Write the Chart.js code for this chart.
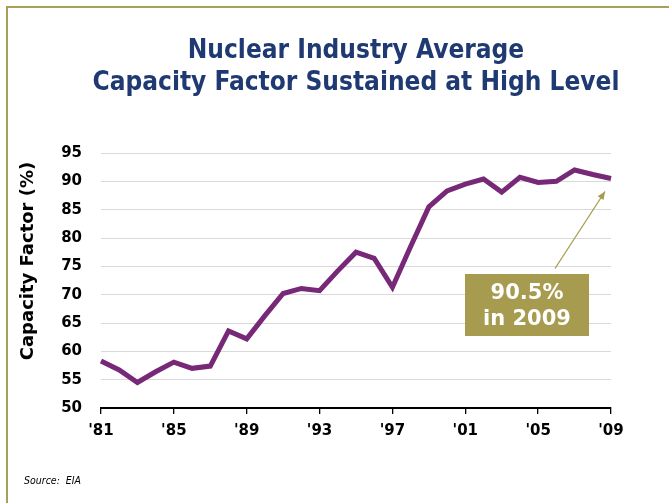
<!DOCTYPE html>
<html>
<head>
<meta charset="utf-8">
<script src="https://cdn.jsdelivr.net/npm/chart.js@4/dist/chart.umd.min.js"></script>
<style>
  html, body { margin: 0; padding: 0; background: #fff; }
  #wrap { position: relative; width: 669px; height: 503px; overflow: hidden; }
  #frame { position: absolute; left: 6px; top: 6px; right: -10px; bottom: -10px;
           border-top: 2px solid #A8A058; border-left: 2px solid #A8A058; }
  canvas { position: absolute; left: 0; top: 0; }
</style>
</head>
<body>
<div id="wrap">
  <div id="frame"></div>
  <canvas id="c" width="669" height="503"></canvas>
</div>
<script>
const years = ['1981','1982','1983','1984','1985','1986','1987','1988','1989','1990',
  '1991','1992','1993','1994','1995','1996','1997','1998','1999','2000',
  '2001','2002','2003','2004','2005','2006','2007','2008','2009'];
const tickLabels = ["'81","'85","'89","'93","'97","'01","'05","'09"];
const capacityFactor = [58.3, 56.7, 54.5, 56.4, 58.1, 57.0, 57.4, 63.6, 62.2, 66.3,
  70.2, 71.1, 70.7, 74.2, 77.5, 76.4, 71.3, 78.5, 85.5, 88.3,
  89.5, 90.4, 88.1, 90.7, 89.8, 90.0, 92.0, 91.2, 90.5];
const titleLines = ['Nuclear Industry Average', 'Capacity Factor Sustained at High Level'];
const yTitle = 'Capacity Factor (%)';
const calloutLines = ['90.5%', 'in 2009'];
const sourceText = 'Source:  EIA';

const GOLD = '#A69B4F';
const NAVY = '#1F3A72';

const decorPlugin = {
  id: 'decor',
  afterDraw(chart) {
    const ctx = chart.ctx;
    const xs = chart.scales.x, ys = chart.scales.y;
    ctx.save();
    // Title
    ctx.fillStyle = NAVY;
    ctx.font = 'bold 26px "DejaVu Sans Condensed", "DejaVu Sans", sans-serif';
    ctx.textAlign = 'center';
    ctx.textBaseline = 'alphabetic';
    ctx.fillText(titleLines[0], 356, 58);
    ctx.fillText(titleLines[1], 356, 90);
    // Y axis title
    ctx.save();
    ctx.translate(28, 261);
    ctx.rotate(-Math.PI / 2);
    ctx.fillStyle = '#000';
    ctx.font = 'bold 18px "DejaVu Sans", sans-serif';
    ctx.textAlign = 'center';
    ctx.textBaseline = 'middle';
    ctx.fillText(yTitle, 0, 0);
    ctx.restore();
    // Source
    ctx.fillStyle = '#000';
    ctx.font = 'italic 10.5px "DejaVu Sans Condensed", sans-serif';
    ctx.textAlign = 'left';
    ctx.textBaseline = 'middle';
    ctx.fillText(sourceText, 24, 481);
    // Callout arrow
    const last = capacityFactor.length - 1;
    const tipX = xs.getPixelForValue(last) - 6;
    const tipY = ys.getPixelForValue(capacityFactor[last]) + 13;
    const baseX = tipX - 50, baseY = tipY + 77;
    ctx.strokeStyle = GOLD;
    ctx.fillStyle = GOLD;
    ctx.lineWidth = 1.3;
    ctx.beginPath();
    ctx.moveTo(baseX, baseY);
    ctx.lineTo(tipX, tipY);
    ctx.stroke();
    const ang = Math.atan2(tipY - baseY, tipX - baseX);
    const L = 8, W = 3.5;
    ctx.beginPath();
    ctx.moveTo(tipX, tipY);
    ctx.lineTo(tipX - L * Math.cos(ang) + W * Math.sin(ang), tipY - L * Math.sin(ang) - W * Math.cos(ang));
    ctx.lineTo(tipX - L * Math.cos(ang) - W * Math.sin(ang), tipY - L * Math.sin(ang) + W * Math.cos(ang));
    ctx.closePath();
    ctx.fill();
    // Callout box
    const bx = 465, by = 274, bw = 124, bh = 62;
    ctx.fillStyle = GOLD;
    ctx.fillRect(bx, by, bw, bh);
    ctx.fillStyle = '#fff';
    ctx.font = 'bold 21px "DejaVu Sans", sans-serif';
    ctx.textAlign = 'center';
    ctx.textBaseline = 'middle';
    ctx.fillText(calloutLines[0], bx + bw / 2, 294);
    ctx.fillText(calloutLines[1], bx + bw / 2, 320);
    ctx.restore();
  }
};

new Chart(document.getElementById('c'), {
  type: 'line',
  data: {
    labels: years,
    datasets: [{
      data: capacityFactor,
      borderColor: '#772877',
      borderWidth: 5,
      pointRadius: 0,
      tension: 0,
      fill: false
    }]
  },
  options: {
    responsive: false,
    animation: false,
    devicePixelRatio: 1,
    layout: { padding: { left: 0, right: 58, top: 153, bottom: 55 } },
    plugins: { legend: { display: false }, title: { display: false }, tooltip: { enabled: false } },
    scales: {
      x: {
        type: 'category',
        offset: false,
        afterFit(s) { s.height = 40; },
        border: { display: true, color: '#000', width: 2 },
        grid: {
          drawOnChartArea: false,
          drawTicks: true,
          tickLength: 6,
          lineWidth: 1.3,
          color: (ctx) => (ctx.index % 4 === 0 ? '#000' : 'rgba(0,0,0,0)')
        },
        ticks: {
          autoSkip: false,
          maxRotation: 0,
          padding: 8,
          color: '#000',
          font: { family: '"DejaVu Sans", sans-serif', weight: 'bold', size: 15 },
          callback: (v, i) => (i % 4 === 0 ? tickLabels[i / 4] : '')
        }
      },
      y: {
        min: 50,
        max: 95,
        afterFit(s) { s.width = 101; },
        border: { display: false },
        grid: { color: '#D9D9D9', lineWidth: 1, drawTicks: false },
        ticks: {
          stepSize: 5,
          padding: 19,
          color: '#000',
          font: { family: '"DejaVu Sans", sans-serif', weight: 'bold', size: 15 }
        }
      }
    }
  },
  plugins: [decorPlugin]
});
</script>
</body>
</html>
